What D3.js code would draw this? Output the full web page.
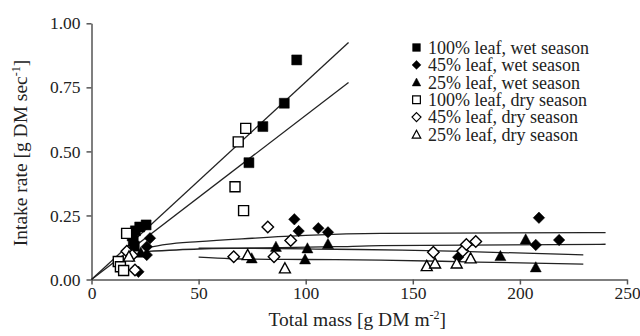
<!DOCTYPE html>
<html>
<head>
<meta charset="utf-8">
<script src="https://cdn.jsdelivr.net/npm/d3@7"></script>
<style>
    body { margin: 0; background: #fff; }
</style>
</head>
<body>
<svg id="chart" width="640" height="336"></svg>
<script>
"use strict";

const FONT = "'Liberation Serif', 'Times New Roman', Times, 'DejaVu Serif', serif";

// ---- data ----
const seriesNames = [
    "100% leaf, wet season", "45% leaf, wet season", "25% leaf, wet season",
    "100% leaf, dry season", "45% leaf, dry season", "25% leaf, dry season"
];
const seriesShapes = ["square", "diamond", "triangle", "square", "diamond", "triangle"];
const seriesFilled = [true, true, true, false, false, false];

const leaf100Wet = [[20, 0.13], [19.5, 0.15], [19, 0.17], [20.5, 0.19], [22.5, 0.205], [25.5, 0.213],
    [73.5, 0.456], [80, 0.597], [90, 0.688], [95.8, 0.857]];
const leaf45Wet = [[27.3, 0.161], [25.8, 0.128], [25.8, 0.096], [21.9, 0.03],
    [94.7, 0.235], [96.7, 0.189], [105.9, 0.2], [110.4, 0.184],
    [171.2, 0.087], [208.9, 0.241], [207.4, 0.135], [218.3, 0.154]];
const leaf25Wet = [[23, 0.105], [86.1, 0.128], [100.8, 0.122], [110.4, 0.139], [74.8, 0.083], [99.7, 0.079],
    [202.7, 0.157], [190.9, 0.092], [207.4, 0.048]];
const leaf100Dry = [[16.4, 0.18], [12.5, 0.07], [13.5, 0.05], [15, 0.035],
    [72, 0.59], [68.5, 0.537], [67, 0.362], [71, 0.269]];
const leaf45Dry = [[16.5, 0.11], [19, 0.095], [20.3, 0.037], [66.4, 0.089], [82.3, 0.205], [85.2, 0.089],
    [93, 0.152], [159.6, 0.106], [173.3, 0.111], [175, 0.137], [179.4, 0.148]];
const leaf25Dry = [[17.5, 0.09], [72.9, 0.096], [90.3, 0.044], [156.5, 0.053], [160.4, 0.063],
    [170.5, 0.063], [177, 0.083]];
const seriesData = [leaf100Wet, leaf45Wet, leaf25Wet, leaf100Dry, leaf45Dry, leaf25Dry];

// fitted lines and curves
const fitWet100 = [[0, 0], [120, 0.925]];
const fitDry100 = [[0, 0], [120, 0.769]];
const fitCurveA = [[25, 0.122], [35, 0.137], [50, 0.148], [75, 0.161], [100, 0.172], [135, 0.18], [240, 0.183]];
const fitCurveB = [[25, 0.109], [50, 0.119], [74, 0.122], [114, 0.128], [135, 0.132], [240, 0.1375]];
const fitCurveC = [[50, 0.122], [74, 0.122], [114, 0.118], [145, 0.115], [180, 0.108], [229.6, 0.096]];
const fitCurveD = [[50, 0.087], [65, 0.081], [100, 0.078], [135, 0.076], [180, 0.068], [229.6, 0.06]];
const fitLines = [fitWet100, fitDry100, fitCurveA, fitCurveB, fitCurveC, fitCurveD];

const xTicks = [0, 50, 100, 150, 200, 250];
const yTicks = [0, 0.25, 0.5, 0.75, 1.0];

// ---- layout ----
const svg = d3.select("#chart");
const plot = { left: 91.5, right: 627, top: 23.3, bottom: 279.5 };

const x = d3.scaleLinear().domain([0, 250]).range([plot.left, plot.right]);
const y = d3.scaleLinear().domain([0, 1]).range([plot.bottom, plot.top]);

// marker shapes
const shapes = {
    square: {
        draw: (ctx, size) => {
            const h = Math.sqrt(size) / 2;
            ctx.moveTo(-h, -h); ctx.lineTo(h, -h); ctx.lineTo(h, h); ctx.lineTo(-h, h); ctx.closePath();
        }
    },
    diamond: {
        draw: (ctx, size) => {
            const h = Math.sqrt(size) / 2 * 1.15;
            ctx.moveTo(0, -h); ctx.lineTo(h, 0); ctx.lineTo(0, h); ctx.lineTo(-h, 0); ctx.closePath();
        }
    },
    triangle: {
        draw: (ctx, size) => {
            const h = Math.sqrt(size) / 2 * 1.1;
            ctx.moveTo(0, -h); ctx.lineTo(h, h * 0.85); ctx.lineTo(-h, h * 0.85); ctx.closePath();
        }
    }
};

// ---- axes ----
const xAxis = svg.append("g")
    .attr("transform", "translate(0," + plot.bottom + ")")
    .call(d3.axisBottom(x).tickValues(xTicks).tickSize(5).tickSizeOuter(0).tickFormat(d3.format("d")));
const yAxis = svg.append("g")
    .attr("transform", "translate(" + plot.left + ",0)")
    .call(d3.axisLeft(y).tickValues(yTicks).tickSize(5).tickSizeOuter(0).tickFormat(d3.format(".2f")));

[xAxis, yAxis].forEach(ax => {
    ax.attr("font-family", FONT).attr("font-size", 17.5);
    ax.select(".domain").attr("stroke", "#555").attr("stroke-width", 1.5);
    ax.selectAll(".tick line").attr("stroke", "#555").attr("stroke-width", 1.5);
    ax.selectAll(".tick text").attr("fill", "#222");
});
xAxis.selectAll(".tick text").attr("dy", "0.85em").attr("y", 5);
yAxis.selectAll(".tick text").attr("x", -11);

// axis titles
const xTitle = svg.append("text")
    .attr("x", x(125) - 2).attr("y", 326)
    .attr("text-anchor", "middle")
    .attr("font-family", FONT)
    .attr("font-size", 19.5)
    .attr("fill", "#222");
xTitle.append("tspan").text("Total mass [g DM m");
xTitle.append("tspan").attr("dy", -7).attr("font-size", 12).text("-2");
xTitle.append("tspan").attr("dy", 7).text("]");

const yTitle = svg.append("text")
    .attr("transform", "translate(27," + 153 + ") rotate(-90)")
    .attr("text-anchor", "middle")
    .attr("font-family", FONT)
    .attr("font-size", 19.5)
    .attr("fill", "#222");
yTitle.append("tspan").text("Intake rate [g DM sec");
yTitle.append("tspan").attr("dy", -7).attr("font-size", 12).text("-1");
yTitle.append("tspan").attr("dy", 7).text("]");

// ---- fit lines ----
const line = d3.line().x(d => x(d[0])).y(d => y(d[1])).curve(d3.curveMonotoneX);
svg.append("g").selectAll("path")
    .data(fitLines)
    .enter()
    .append("path")
    .attr("d", line)
    .attr("fill", "none")
    .attr("stroke", "#222")
    .attr("stroke-width", 1.3);

// ---- markers ----
seriesData.forEach((pts, i) => {
    const sym = d3.symbol().type(shapes[seriesShapes[i]]).size(100);
    svg.append("g").selectAll("path")
        .data(pts)
        .enter()
        .append("path")
        .attr("transform", d => "translate(" + x(d[0]) + "," + y(d[1]) + ")")
        .attr("d", sym)
        .attr("fill", seriesFilled[i] ? "#000" : "#fff")
        .attr("stroke", "#000")
        .attr("stroke-width", seriesFilled[i] ? 0.5 : 1.4);
});

// ---- legend ----
const legend = svg.append("g").attr("transform", "translate(416.5,47.5)");
const rows = legend.selectAll("g")
    .data(seriesNames)
    .enter()
    .append("g")
    .attr("transform", (d, i) => "translate(0," + i * 17.4 + ")");
rows.append("path")
    .attr("d", (d, i) => d3.symbol().type(shapes[seriesShapes[i]]).size(60)())
    .attr("fill", (d, i) => seriesFilled[i] ? "#000" : "#fff")
    .attr("stroke", "#000")
    .attr("stroke-width", (d, i) => seriesFilled[i] ? 0.5 : 1.2);
rows.append("text")
    .attr("x", 11.5)
    .attr("dy", "0.35em")
    .attr("font-family", FONT)
    .attr("font-size", 18)
    .attr("fill", "#222")
    .text(d => d);
</script>
</body>
</html>
